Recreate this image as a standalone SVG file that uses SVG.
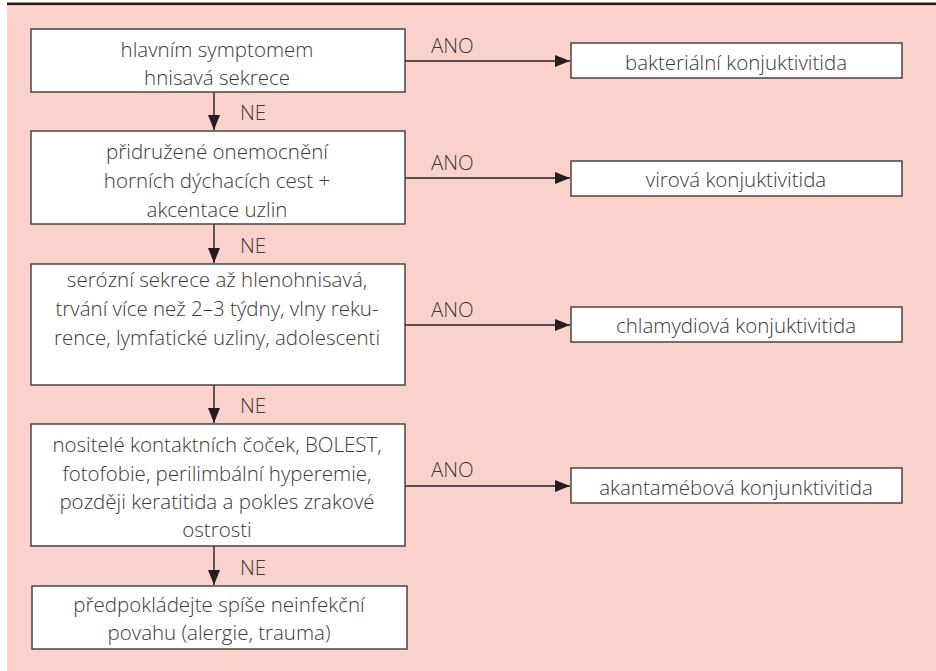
<svg xmlns="http://www.w3.org/2000/svg" width="936" height="671" viewBox="0 0 936 671">
<defs>
<style>
.bg{fill:#FAD2CB}
.box{fill:#ffffff;stroke:#3a3a3a;stroke-width:1.4}
.t{font-family:"Open Sans","Noto Sans","Liberation Sans",sans-serif;font-size:20.5px;font-weight:300;fill:#3a3a3a;text-anchor:middle}
.l{font-family:"Open Sans","Noto Sans","Liberation Sans",sans-serif;font-size:20.5px;font-weight:300;fill:#3a3a3a}
.c{stroke:#231f20;stroke-width:1.4;fill:none}
</style>
<marker id="ah" markerUnits="userSpaceOnUse" markerWidth="16" markerHeight="12" refX="15" refY="6" orient="auto">
<path d="M0,0 L15,6 L0,12 Z" fill="#231f20"/>
</marker>
</defs>
<rect x="0" y="0" width="936" height="671" fill="#ffffff"/>
<rect class="bg" x="7" y="5" width="929" height="666"/>
<rect x="7" y="2.5" width="929" height="2.6" fill="#231f20"/>

<g id="connectors">
<line class="c" x1="214" y1="92" x2="214" y2="130" marker-end="url(#ah)"/>
<line class="c" x1="214" y1="224" x2="214" y2="263" marker-end="url(#ah)"/>
<line class="c" x1="214" y1="385" x2="214" y2="423" marker-end="url(#ah)"/>
<line class="c" x1="214" y1="546" x2="214" y2="585" marker-end="url(#ah)"/>
<line class="c" x1="405" y1="61" x2="570" y2="61" marker-end="url(#ah)"/>
<line class="c" x1="405" y1="178" x2="570" y2="178" marker-end="url(#ah)"/>
<line class="c" x1="405" y1="325" x2="570" y2="325" marker-end="url(#ah)"/>
<line class="c" x1="405" y1="486" x2="570" y2="486" marker-end="url(#ah)"/>
<text class="l" x="240" y="120">NE</text>
<text class="l" x="240" y="253">NE</text>
<text class="l" x="240" y="413">NE</text>
<text class="l" x="240" y="575">NE</text>
<text class="l" x="431" y="53">ANO</text>
<text class="l" x="431" y="170">ANO</text>
<text class="l" x="431" y="317">ANO</text>
<text class="l" x="431" y="477">ANO</text>
</g>

<g id="q1">
<rect class="box" x="31" y="29" width="374" height="63"/>
<text class="t" x="217" y="57">hlavním symptomem</text>
<text class="t" x="217" y="85">hnisavá sekrece</text>
</g>
<g id="q2">
<rect class="box" x="31" y="131" width="374" height="93"/>
<text class="t" x="217" y="159">přidružené onemocnění</text>
<text class="t" x="217" y="188">horních dýchacích cest +</text>
<text class="t" x="217" y="217">akcentace uzlin</text>
</g>
<g id="q3">
<rect class="box" x="31" y="264" width="374" height="121"/>
<text class="t" x="217" y="287">serózní sekrece až hlenohnisavá,</text>
<text class="t" x="217" y="316">trvání více než 2–3 týdny, vlny reku-</text>
<text class="t" x="217" y="345">rence, lymfatické uzliny, adolescenti</text>
</g>
<g id="q4">
<rect class="box" x="31" y="424" width="374" height="122"/>
<text class="t" x="217" y="452">nositelé kontaktních čoček, BOLEST,</text>
<text class="t" x="217" y="481">fotofobie, perilimbální hyperemie,</text>
<text class="t" x="217" y="509">později keratitida a pokles zrakové</text>
<text class="t" x="217" y="537">ostrosti</text>
</g>
<g id="q5">
<rect class="box" x="32" y="586" width="375" height="63"/>
<text class="t" x="219" y="612">předpokládejte spíše neinfekční</text>
<text class="t" x="219" y="640">povahu (alergie, trauma)</text>
</g>
<g id="r1">
<rect class="box" x="571" y="43" width="331" height="35"/>
<text class="t" x="736" y="70">bakteriální konjuktivitida</text>
</g>
<g id="r2">
<rect class="box" x="571" y="161" width="331" height="35"/>
<text class="t" x="736" y="187">virová konjuktivitida</text>
</g>
<g id="r3">
<rect class="box" x="571" y="307" width="331" height="35"/>
<text class="t" x="736" y="333">chlamydiová konjuktivitida</text>
</g>
<g id="r4">
<rect class="box" x="571" y="468" width="331" height="35"/>
<text class="t" x="736" y="495">akantamébová konjunktivitida</text>
</g>
</svg>
